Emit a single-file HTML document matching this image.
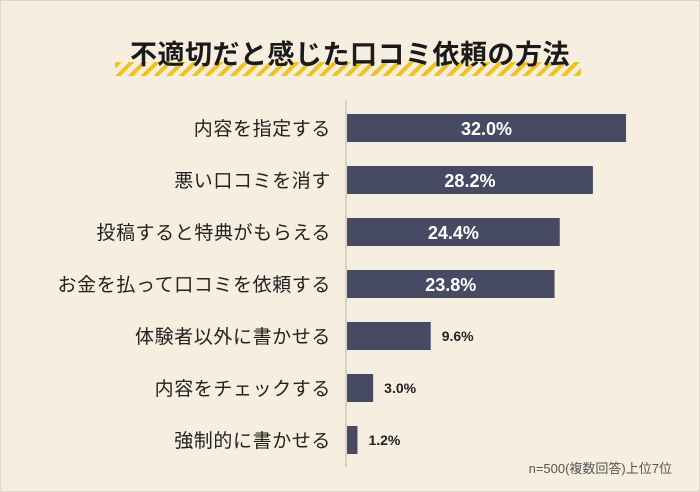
<!DOCTYPE html>
<html><head><meta charset="utf-8"><style>
body{margin:0;width:700px;height:492px;overflow:hidden;background:#e9e6e0;font-family:"Liberation Sans","Noto Sans CJK JP",sans-serif;}
#frame{position:absolute;left:0;top:0;width:698px;height:490px;background:#f6efdf;border:1px solid #dcd8d0;}
</style></head><body>
<div id="frame"></div>
<svg width="700" height="492" style="position:absolute;left:0;top:0">
<defs><pattern id="st" width="9" height="9" patternUnits="userSpaceOnUse" patternTransform="rotate(45)"><rect width="4" height="9" fill="#f2c21a"/><rect x="4" width="5" height="9" fill="#f6efdf"/></pattern></defs>
<rect x="115" y="62" width="466" height="14" fill="url(#st)"/>
<text x="350" y="64" text-anchor="middle" font-size="27" font-weight="bold" letter-spacing="0.5" fill="#1a1a1a">不適切だと感じた口コミ依頼の方法</text>
<line x1="346" y1="100" x2="346" y2="467" stroke="#d8d2c6" stroke-width="2"/>
<text x="672" y="473" text-anchor="end" font-size="13" fill="#555">n=500(複数回答)上位7位</text>
<g id="bars"></g>
</svg>
<script>
const categories=["内容を指定する","悪い口コミを消す","投稿すると特典がもらえる","お金を払って口コミを依頼する","体験者以外に書かせる","内容をチェックする","強制的に書かせる"];
const values=[32.0,28.2,24.4,23.8,9.6,3.0,1.2];
const labels=["32.0%","28.2%","24.4%","23.8%","9.6%","3.0%","1.2%"];
const x0=347,pxPer=8.72,yTop=128,step=52,bh=28;
const xs=v=>x0+v*pxPer, ys=i=>yTop+i*step;
const g=document.getElementById('bars');const NS="http://www.w3.org/2000/svg";
categories.forEach((c,i)=>{
 const y=ys(i),w=xs(values[i])-x0;
 const r=document.createElementNS(NS,'rect');
 r.setAttribute('x',x0);r.setAttribute('y',y-bh/2);r.setAttribute('width',w);r.setAttribute('height',bh);r.setAttribute('fill','#464a62');
 
 
 g.appendChild(r);
 const t=document.createElementNS(NS,'text');
 t.setAttribute('x',331);t.setAttribute('y',y+7);t.setAttribute('text-anchor','end');t.setAttribute('font-size','19');t.setAttribute('letter-spacing','0.6');t.setAttribute('fill','#222');
 t.textContent=c;
 
 
 g.appendChild(t);
 const inside=w>100;
 const v=document.createElementNS(NS,'text');
 v.setAttribute('x',inside?x0+w/2:x0+w+11);v.setAttribute('y',inside?y+7:y+5);
 v.setAttribute('text-anchor',inside?'middle':'start');
 v.setAttribute('font-size',inside?'18':'14');
 v.setAttribute('font-weight','bold');
 v.setAttribute('fill',inside?'#fff':'#222');
 v.textContent=labels[i];
 
 
 g.appendChild(v);
});
</script>
</body></html>
